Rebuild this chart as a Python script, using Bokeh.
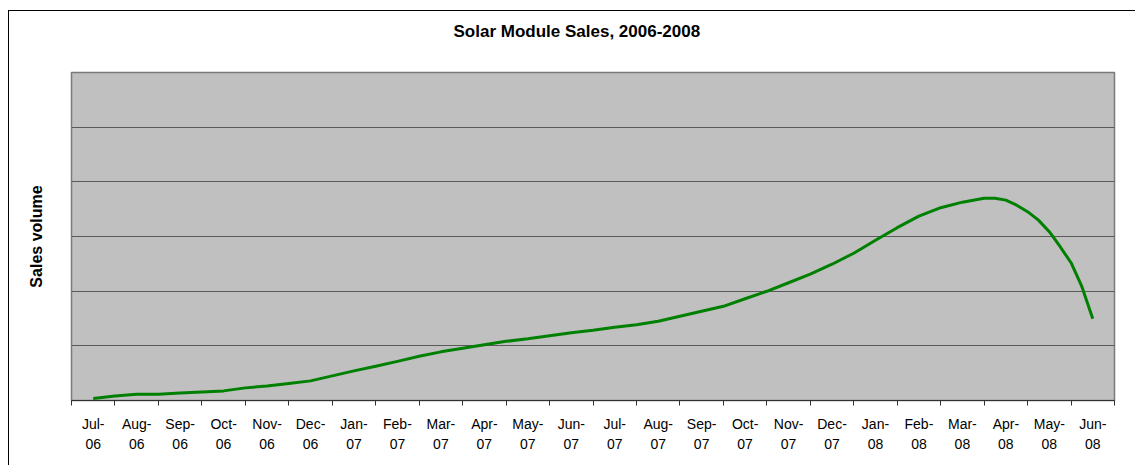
from bokeh.plotting import figure
from bokeh.models import FixedTicker, Range1d, Title
from bokeh.embed import file_html
from bokeh.resources import INLINE

# Category labels (months)
months = ["Jul-06", "Aug-06", "Sep-06", "Oct-06", "Nov-06", "Dec-06",
          "Jan-07", "Feb-07", "Mar-07", "Apr-07", "May-07", "Jun-07",
          "Jul-07", "Aug-07", "Sep-07", "Oct-07", "Nov-07", "Dec-07",
          "Jan-08", "Feb-08", "Mar-08", "Apr-08", "May-08", "Jun-08"]

# Sample positions in month units (0 = start of Jul-06)
month_pos = [0.5, 1.0, 1.5, 2.0, 2.5, 3.0, 3.5, 4.0, 4.5, 5.0, 5.5, 6.0,
             6.5, 7.0, 7.5, 8.0, 8.5, 9.0, 9.5, 10.0, 10.5, 11.0, 11.5, 12.0,
             12.5, 13.0, 13.5, 14.0, 14.5, 15.0, 15.5, 16.0, 16.5, 17.0, 17.5,
             18.0, 18.5, 19.0, 19.5, 20.0, 20.5, 21.0, 21.25, 21.5, 21.75,
             22.0, 22.25, 22.5, 22.75, 23.0, 23.25, 23.5]

# Sales volume (estimated, arbitrary units)
sales = [35, 84, 115, 115, 139, 157, 176, 231, 267, 313, 359, 450,
         542, 625, 716, 808, 890, 954, 1018, 1082, 1128, 1183, 1238, 1284,
         1339, 1385, 1449, 1540, 1632, 1723, 1861, 1998, 2154, 2310, 2493,
         2694, 2932, 3161, 3372, 3527, 3628, 3701, 3701, 3665, 3573,
         3454, 3300, 3088, 2813, 2520, 2081, 1495]

grid_ticks = [0, 1000, 2000, 3000, 4000, 5000, 6000]
title_text = "Solar Module Sales, 2006-2008"

FONT = "Liberation Sans"

p = figure(width=1127, height=455, output_backend="svg", toolbar_location=None,
           x_range=Range1d(0, len(months)), y_range=Range1d(0, 6000),
           min_border_left=62, min_border_right=22, min_border_top=61,
           min_border_bottom=66)

p.styles = {"margin-left": "8px", "margin-top": "10px",
            "border-left": "1px solid #000", "border-top": "1px solid #000"}

p.background_fill_color = "#C0C0C0"
p.border_fill_color = "white"
p.outline_line_color = "#7a7a7a"
p.outline_line_width = 1.5

# spacer panel between the frame and the title
p.add_layout(Title(text=" ", text_font_size="1px", standoff=29), "above")
p.add_layout(Title(text=title_text, align="left", offset=382, standoff=0,
                   text_font=FONT, text_font_size="17px", text_font_style="bold",
                   text_color="black"), "above")

p.line(month_pos, sales, line_color="#008000", line_width=3, line_join="round")

# grid
p.xgrid.grid_line_color = None
p.ygrid.ticker = FixedTicker(ticks=grid_ticks)
p.ygrid.grid_line_color = "#5a5a5a"
p.ygrid.grid_line_width = 1.2

# x axis: labels at centres, tick marks at boundaries
centers = [i + 0.5 for i in range(len(months))]
bounds = [float(i) for i in range(len(months) + 1)]
xa = p.xaxis[0]
xa.ticker = FixedTicker(ticks=centers, minor_ticks=bounds)
xa.major_label_overrides = {c: m.replace("-", "-\n") for c, m in zip(centers, months)}
xa.major_tick_in = 0
xa.major_tick_out = 0
xa.minor_tick_in = 0
xa.minor_tick_out = 5
xa.minor_tick_line_color = "#303030"
xa.axis_line_color = "#303030"
xa.axis_line_width = 1.2
xa.major_label_text_font = FONT
xa.major_label_text_font_size = "14px"
xa.major_label_text_color = "black"
xa.major_label_text_line_height = 1.25
xa.major_label_standoff = 10

# y axis: only the label
ya = p.yaxis[0]
ya.ticker = FixedTicker(ticks=[])
ya.axis_line_color = None
ya.major_tick_in = 0
ya.major_tick_out = 0
ya.minor_tick_in = 0
ya.minor_tick_out = 0
ya.major_label_standoff = 0
ya.axis_label = "Sales volume"
ya.axis_label_text_font = FONT
ya.axis_label_text_font_size = "16px"
ya.axis_label_text_font_style = "bold"
ya.axis_label_text_color = "black"
ya.axis_label_standoff = 27

open("out.html", "w").write(file_html(p, INLINE))
